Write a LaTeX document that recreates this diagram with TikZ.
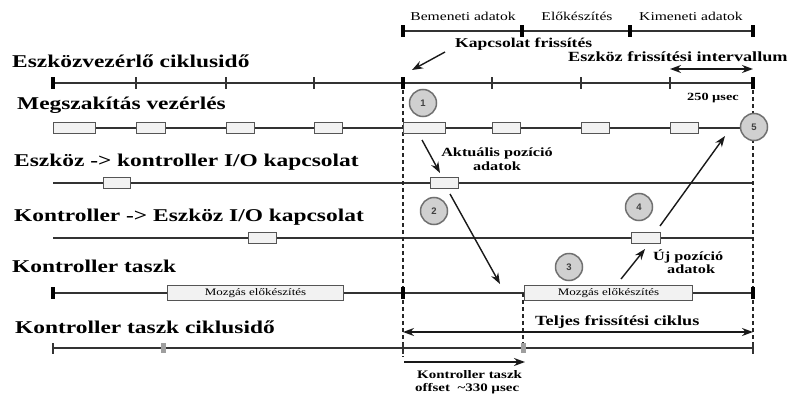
\documentclass[tikz,border=0pt]{standalone}
\usepackage{fontspec}
\setmainfont{Liberation Serif}
\newfontfamily\numfont{Liberation Sans}
\usetikzlibrary{arrows.meta}
% text in this chart is set wide
\newcommand{\stx}[1]{\scalebox{1.3}[1]{#1}}
\definecolor{linecol}{HTML}{333333}
\definecolor{boxfill}{HTML}{F2F2F2}
\definecolor{boxdraw}{HTML}{555555}
\definecolor{circfill}{HTML}{D0D0D0}
\definecolor{circdraw}{HTML}{707070}

\begin{document}
\begin{tikzpicture}[x=1pt,y=-1pt,
  lab/.style={anchor=base west, inner sep=0pt, font=\fontsize{18}{20}\selectfont\bfseries},
  note/.style={anchor=base west, inner sep=0pt, font=\fontsize{13.5}{15}\selectfont\bfseries},
  smallnote/.style={anchor=base west, inner sep=0pt, font=\fontsize{11.5}{13}\selectfont\bfseries},
  phaselab/.style={anchor=base, inner sep=0pt, font=\fontsize{12}{14}\selectfont},
  tline/.style={draw=linecol, line width=1.1pt},
  bigtick/.style={rectangle, fill=black, minimum width=4pt, minimum height=12pt, inner sep=0pt},
  smalltick/.style={rectangle, fill=linecol, minimum width=1.2pt, minimum height=12pt, inner sep=0pt},
  graytick/.style={rectangle, fill=gray!75, minimum width=5pt, minimum height=10pt, inner sep=0pt},
  slot/.style={rectangle, draw=boxdraw, fill=boxfill, line width=1pt, minimum height=11pt, inner sep=0pt, anchor=west},
  task/.style={slot, minimum height=15pt, font=\fontsize{10}{12}\selectfont},
  stepnum/.style={circle, draw=circdraw, fill=circfill, line width=1.5pt, minimum size=27pt, inner sep=0pt, font=\numfont\fontsize{9.5}{10}\selectfont\bfseries, text=black!75},
  guide/.style={draw=black!85, line width=2.4pt, dash pattern=on 4pt off 3pt},
  arr/.style={draw=black!90, line width=1.4pt, -{Stealth[length=11pt,width=8pt]}},
  darr/.style={draw=black!90, line width=1.4pt, {Stealth[length=11pt,width=8pt]}-{Stealth[length=11pt,width=8pt]}},
]
\fill[white] (0,0) rectangle (794,396);
\useasboundingbox (0,0) rectangle (794,396);

% ---- row labels ----
\node[lab] (l1) at (12,67)  {\stx{Eszközvezérlő ciklusidő}};
\node[lab] (l2) at (17,109) {\stx{Megszakítás vezérlés}};
\node[lab] (l3) at (14,166) {\stx{Eszköz -> kontroller I/O kapcsolat}};
\node[lab] (l4) at (14,221) {\stx{Kontroller -> Eszköz I/O kapcsolat}};
\node[lab] (l5) at (12,272) {\stx{Kontroller taszk}};
\node[lab] (l6) at (15,333) {\stx{Kontroller taszk ciklusidő}};

% ---- end points of the time lines ----
\coordinate (p0s) at (403,31);  \coordinate (p0e) at (753,31);
\coordinate (r1s) at (53,83);   \coordinate (r1e) at (753,83);
\coordinate (r2s) at (53,128);  \coordinate (r2e) at (753,128);
\coordinate (r3s) at (53,183);  \coordinate (r3e) at (753,183);
\coordinate (r4s) at (53,238);  \coordinate (r4e) at (753,238);
\coordinate (r5s) at (53,293);  \coordinate (r5e) at (753,293);
\coordinate (r6s) at (53,348);  \coordinate (r6e) at (753,348);

\foreach \r in {p0,r1,r2,r3,r4,r5,r6}
  \draw[tline] (\r s) -- (\r e);

% ---- dashed cycle boundaries ----
\coordinate (g1a) at (403,83);  \coordinate (g1b) at (403,357);
\coordinate (g2a) at (753,83);  \coordinate (g2b) at (753,348);
\coordinate (g3a) at (523,293); \coordinate (g3b) at (523,348);
\draw[guide] (g1a) -- (g1b);
\draw[guide] (g2a) -- (g2b);
\draw[guide] (g3a) -- (g3b);

% ---- phases of the update cycle ----
\foreach \x [count=\i] in {403,522,630,753}
  \node[bigtick] (pt\i) at (\x,31) {};
\node[phaselab] (ph1) at (463,21) {\stx{Bemeneti adatok}};
\node[phaselab] (ph2) at (577,21) {\stx{Előkészítés}};
\node[phaselab] (ph3) at (691,21) {\stx{Kimeneti adatok}};

% ---- device cycle ticks ----
\foreach \x [count=\i] in {53,403,753}
  \node[bigtick] (bt\i) at (\x,83) {};
\foreach \x [count=\i] in {136,226,314,492,581,670}
  \node[smalltick] (st\i) at (\x,83) {};

% ---- interrupt slots ----
\foreach \x/\w [count=\i] in {53/42,136/29,226/28,314/28,403/42,492/28,581/28,670/28}
  \node[slot, minimum width=\w pt] (irq\i) at (\x,128) {};

% ---- I/O connection slots ----
\node[slot, minimum width=27pt] (in1)  at (103,183) {};
\node[slot, minimum width=28pt] (in2)  at (430,183) {};
\node[slot, minimum width=28pt] (out1) at (248,238) {};
\node[slot, minimum width=29pt] (out2) at (631,238) {};

% ---- controller task ----
\foreach \x [count=\i] in {53,403,753}
  \node[bigtick] (kt\i) at (\x,293) {};
\node[task, minimum width=176pt] (mot1) at (167,293) {\stx{Mozgás előkészítés}};
\node[task, minimum width=168pt] (mot2) at (524,293) {\stx{Mozgás előkészítés}};

% ---- controller task cycle ----
\foreach \x [count=\i] in {53,403,753}
  \node[smalltick, minimum height=11pt] (ct\i) at (\x,348) {};
\node[graytick] (gt1) at (163,348) {};
\node[graytick] (gt2) at (523,348) {};

% ---- numbered steps ----
\node[stepnum] (s1) at (423,103) {1};
\node[stepnum] (s2) at (434,211) {2};
\node[stepnum] (s3) at (569,267) {3};
\node[stepnum] (s4) at (639,207) {4};
\node[stepnum] (s5) at (754,127) {5};

% ---- annotations ----
\node[note] (kf) at (455,48) {\stx{Kapcsolat frissítés}};
\coordinate (kfa) at (445,52); \coordinate (kfb) at (412,70);
\draw[arr] (kfa) -- (kfb);

\node[note, font=\fontsize{14}{16}\selectfont\bfseries] (efi) at (568,62) {\stx{Eszköz frissítési intervallum}};
\coordinate (efa) at (670,69); \coordinate (efb) at (753,69);
\draw[darr] (efa) -- (efb);
\node[smallnote, font=\fontsize{11}{13}\selectfont\bfseries] (us) at (687,100) {\stx{250 µsec}};

\node[note, anchor=base, font=\fontsize{12.5}{14}\selectfont\bfseries] (ap1) at (497,156) {\stx{Aktuális pozíció}};
\node[note, anchor=base, font=\fontsize{12.5}{14}\selectfont\bfseries] (ap2) at (497,170) {\stx{adatok}};
\coordinate (apa) at (422,140); \coordinate (apb) at (440,173);
\draw[arr] (apa) -- (apb);

\coordinate (s2a) at (450,194); \coordinate (s2b) at (500,284);
\draw[arr] (s2a) -- (s2b);

\node[note, font=\fontsize{12.5}{14}\selectfont\bfseries] (up1) at (653,260) {\stx{Új pozíció}};
\node[note, font=\fontsize{12.5}{14}\selectfont\bfseries] (up2) at (667,273) {\stx{adatok}};
\coordinate (upa) at (621,279); \coordinate (upb) at (645,249);
\draw[arr] (upa) -- (upb);

\coordinate (s4a) at (660,226); \coordinate (s4b) at (725,136);
\draw[arr] (s4a) -- (s4b);

\node[note, font=\fontsize{14}{16}\selectfont\bfseries] (tfc) at (535,325) {\stx{Teljes frissítési ciklus}};
\coordinate (tfa) at (403,332); \coordinate (tfb) at (753,332);
\draw[darr] (tfa) -- (tfb);

\coordinate (ofa) at (404,362); \coordinate (ofb) at (525,362);
\draw[arr] (ofa) -- (ofb);
\node[smallnote] (of1) at (417,378) {\stx{Kontroller taszk}};
\node[smallnote] (of2) at (415,391) {\stx{offset \ \textasciitilde330 µsec}};
\end{tikzpicture}
\end{document}
